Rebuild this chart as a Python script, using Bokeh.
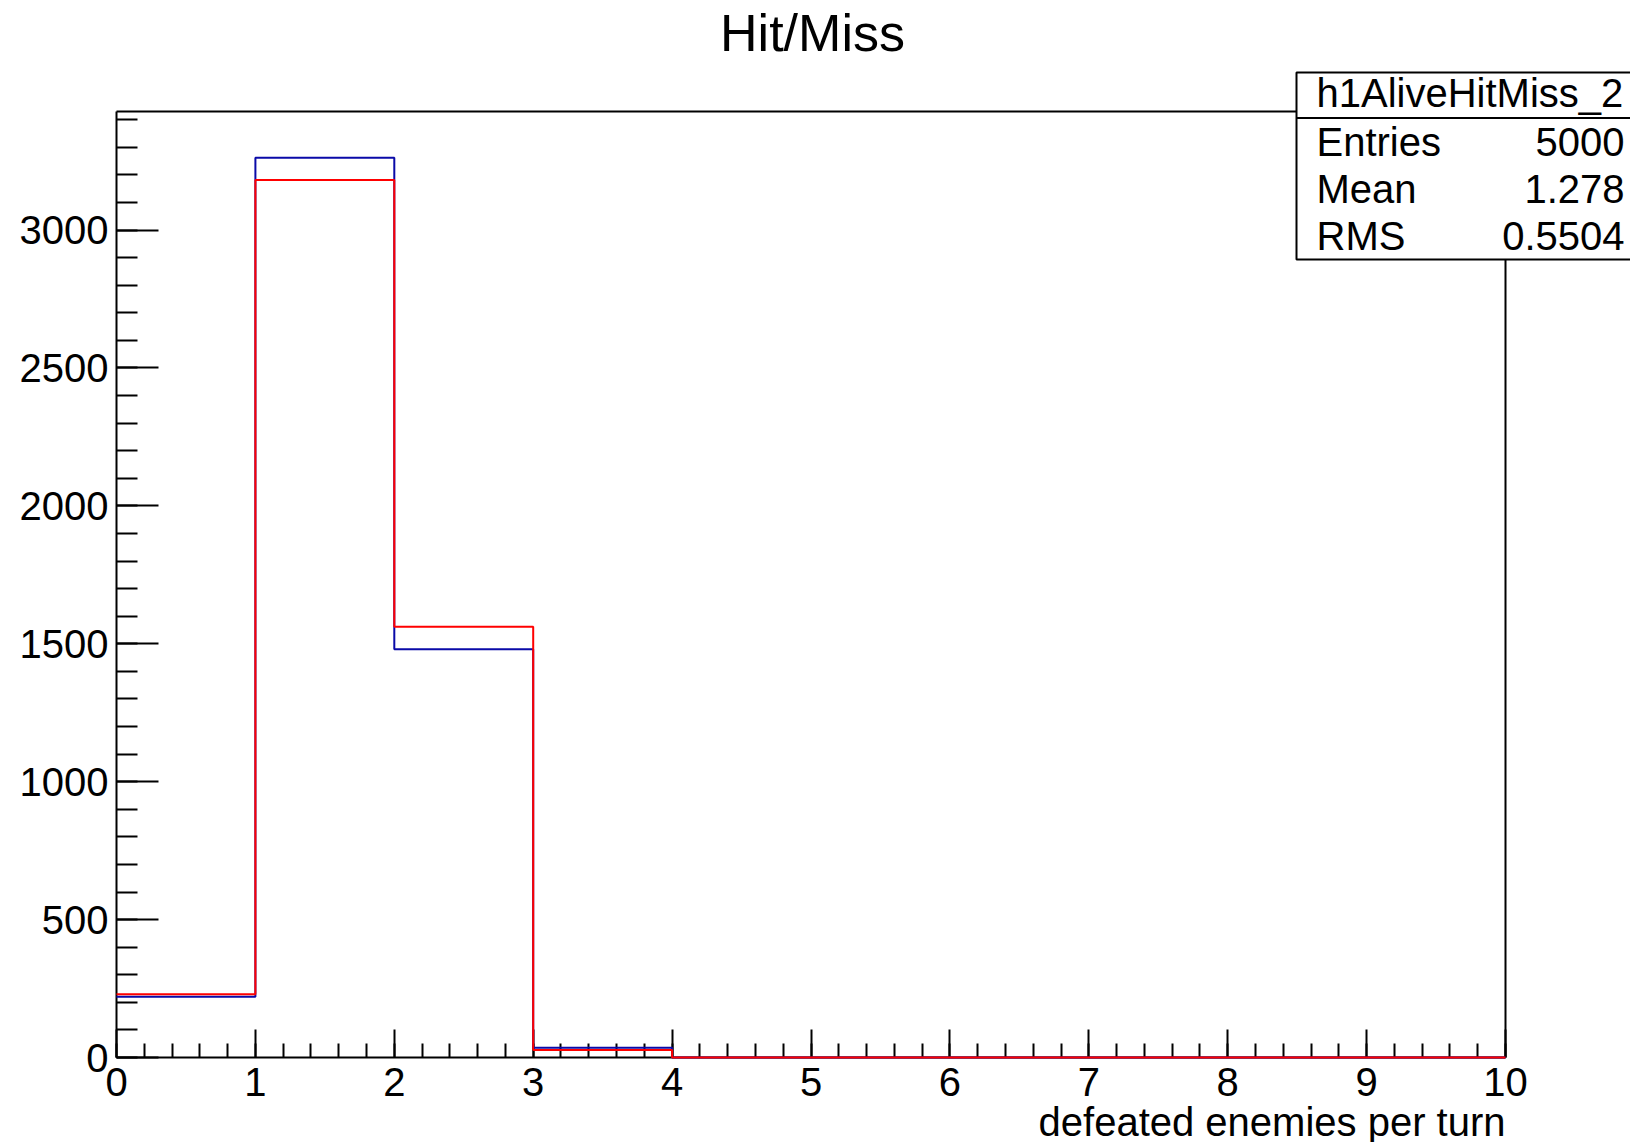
from bokeh.plotting import figure
from bokeh.models import (SingleIntervalTicker, Label, BoxAnnotation, Range1d)
from bokeh.embed import file_html
from bokeh.resources import INLINE

# ---- data ----
bin_edges = [0, 1, 2, 3, 4, 5, 6, 7, 8, 9, 10]
blue_counts = [220, 3262, 1480, 35, 0, 0, 0, 0, 0, 0]
red_counts = [229, 3182, 1562, 27, 0, 0, 0, 0, 0, 0]
title_text = "Hit/Miss"
x_label = "defeated enemies per turn"
stats_name = "h1AliveHitMiss_2"
stats_keys = ["Entries", "Mean", "RMS"]
stats_vals = ["5000", "1.278", "0.5504"]
x_min, x_max = 0, 10
y_min, y_max = 0, 3430

FONT = "Liberation Sans"
FS = "40px"
W, H = 1630, 1142
# pixel layout of the histogram frame inside the canvas
PX_L, PX_R, PX_T, PX_B = 116, 1505, 111, 1057
TXT = 15  # baseline correction for alphabetic text


def outline(edges, counts):
    # step outline without the end verticals (as ROOT draws it)
    xs, ys = [], []
    for i, c in enumerate(counts):
        xs += [edges[i], edges[i + 1]]
        ys += [c, c]
    return xs, ys


dx = (x_max - x_min) / (PX_R - PX_L)
dy = (y_max - y_min) / (PX_B - PX_T)
x_range = Range1d(x_min - PX_L * dx, x_max + (W - PX_R) * dx)
y_range = Range1d(y_min - (H - PX_B) * dy, y_max + PX_T * dy)

p = figure(width=W, height=H, x_range=x_range, y_range=y_range,
           min_border_left=0, min_border_right=0, min_border_top=0, min_border_bottom=0,
           toolbar_location=None, output_backend="svg", title=None)
p.outline_line_color = None
p.xgrid.visible = False
p.ygrid.visible = False
p.background_fill_color = "white"
p.border_fill_color = "white"

# frame top and right edges
p.line([x_min, x_max, x_max], [y_max, y_max, y_min], line_color="black", line_width=2)

bx, by = outline(bin_edges, blue_counts)
rx, ry = outline(bin_edges, red_counts)
p.line(bx, by, line_color="#0a0aa8", line_width=2, level="annotation")
p.line(rx, ry, line_color="#ff0000", line_width=2, level="annotation")

for ax in (p.xaxis[0], p.yaxis[0]):
    ax.fixed_location = 0
    ax.axis_line_width = 2
    ax.major_tick_line_width = 2
    ax.minor_tick_line_width = 2
    ax.major_tick_out = 0
    ax.minor_tick_out = 0
    ax.major_label_text_font = FONT
    ax.major_label_text_font_size = FS
    ax.major_label_text_color = "black"

p.xaxis[0].bounds = (x_min, x_max)
p.xaxis[0].ticker = SingleIntervalTicker(interval=1, num_minor_ticks=5)
p.xaxis[0].major_tick_in = 28
p.xaxis[0].minor_tick_in = 14
p.xaxis[0].major_label_standoff = 10

p.yaxis[0].bounds = (y_min, y_max)
p.yaxis[0].ticker = SingleIntervalTicker(interval=500, num_minor_ticks=5)
p.yaxis[0].major_tick_in = 42
p.yaxis[0].minor_tick_in = 21
p.yaxis[0].major_label_standoff = 8


def lab(x, y_top, text, align, size=FS, level="annotation"):
    p.add_layout(Label(x=x, y=H - y_top + TXT, x_units="screen", y_units="screen",
                       text=text, text_align=align, text_baseline="alphabetic",
                       text_font=FONT, text_font_size=size, text_color="black",
                       level=level))


# title and x axis label
lab(812, 47, title_text, "center", size="52px")
lab(PX_R, 1136, x_label, "right")

# stats box
p.add_layout(BoxAnnotation(left=1296, right=1660, bottom=H - 259, top=H - 72,
                           left_units="screen", right_units="screen",
                           bottom_units="screen", top_units="screen",
                           fill_color="white", fill_alpha=1.0,
                           line_color="black", line_alpha=1.0, line_width=2,
                           level="overlay"))
p.add_layout(BoxAnnotation(left=1296, right=1660, bottom=H - 118, top=H - 117,
                           left_units="screen", right_units="screen",
                           bottom_units="screen", top_units="screen",
                           fill_color="black", fill_alpha=1.0,
                           line_color="black", line_alpha=1.0, line_width=1,
                           level="overlay"))
lab(1316, 107, stats_name, "left", level="overlay")
row_y = [156.5, 203.5, 250.5]
for k, v, yy in zip(stats_keys, stats_vals, row_y):
    lab(1316, yy, k, "left", level="overlay")
    lab(1624, yy, v, "right", level="overlay")

open("out.html", "w").write(file_html(p, INLINE))
